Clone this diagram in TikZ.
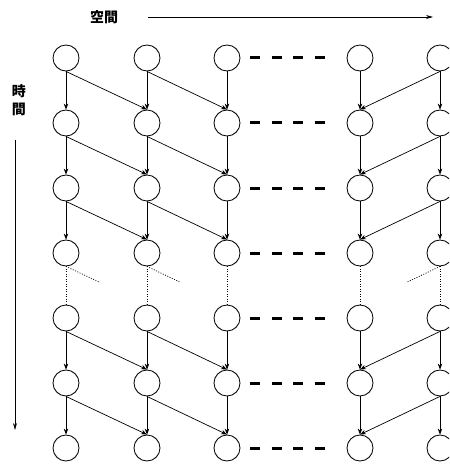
\documentclass[tikz,border=0pt]{standalone}
\usepackage{fontspec}
\newfontfamily\jpfont{Noto Sans CJK JP}
\usetikzlibrary{arrows.meta,calc}
\tikzset{
  cell/.style={circle, draw, line width=0.85pt, minimum size=26pt, inner sep=0pt},
  flow/.style={line width=0.7pt, -{Stealth[length=6pt,width=4.5pt]}},
  gap/.style={line width=0.7pt, dash pattern=on 1pt off 1.5pt},
  ellipsis/.style={line width=3pt, dash pattern=on 10pt off 11.5pt},
  axis/.style={line width=0.8pt, -{Stealth[length=7pt,width=4pt]}},
  lab/.style={font=\jpfont\bfseries\fontsize{14pt}{16pt}\selectfont, inner sep=0pt}
}
\begin{document}
\begin{tikzpicture}[x=1pt, y=-1pt]
\useasboundingbox (0,0) rectangle (449,465);
\clip (0,0) rectangle (449,465);
% grid of cells: rows 1..7, columns 1..5
\foreach \r/\y in {1/58,2/123,3/188,4/253,5/318,6/383,7/448}{
  \foreach \c/\x in {1/66,2/147,3/227,4/360,5/440}{
    \node[cell] (n-\r-\c) at (\x,\y) {};
  }
  \coordinate (d-\r-a) at (250,\y);
  \coordinate (d-\r-b) at (326,\y);
  \draw[ellipsis] (d-\r-a) -- (d-\r-b);
}
% arrows between consecutive time steps
\foreach \r/\s in {1/2,2/3,3/4,5/6,6/7}{
  \foreach \c in {1,...,5}{
    \draw[flow] (n-\r-\c.south) -- (n-\s-\c.north);
  }
  \draw[flow] (n-\r-1.south) -- (n-\s-2.north);
  \draw[flow] (n-\r-2.south) -- (n-\s-3.north);
  \draw[flow] (n-\r-5.south) -- (n-\s-4.north);
}
% omitted time steps
\foreach \c in {1,...,5}{
  \draw[gap] (n-4-\c.south) -- (n-5-\c.north);
}
\draw[gap] (n-4-1.south) -- ($(n-4-1.south)!0.42!(n-5-2.north)$);
\draw[gap] (n-4-2.south) -- ($(n-4-2.south)!0.42!(n-5-3.north)$);
\draw[gap] (n-4-5.south) -- ($(n-4-5.south)!0.42!(n-5-4.north)$);
% axes
\node[lab] (space) at (104,17) {空間};
\coordinate (sx-a) at (148,17);
\coordinate (sx-b) at (433,17);
\draw[axis] (sx-a) -- (sx-b);
\node[lab, align=center] (time) at (19,100) {時\\[2pt]間};
\coordinate (tx-a) at (15,140);
\coordinate (tx-b) at (15,430);
\draw[axis] (tx-a) -- (tx-b);
\end{tikzpicture}
\end{document}
